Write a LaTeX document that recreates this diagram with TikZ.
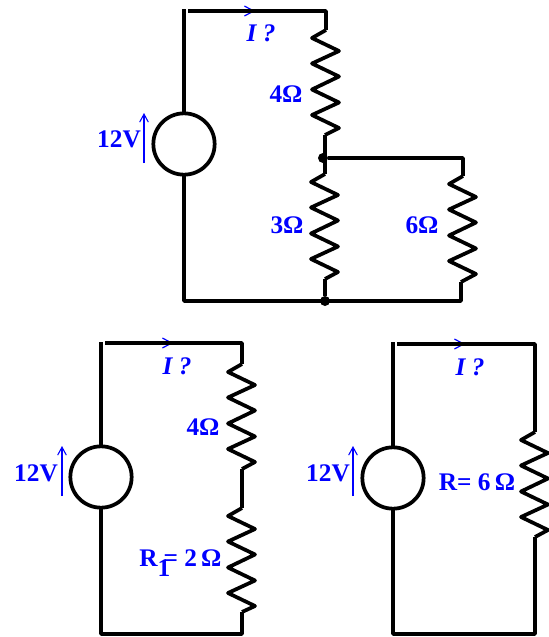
\documentclass[tikz,border=0pt]{standalone}
\usepackage{fontspec}
\setmainfont{Liberation Serif}
\usetikzlibrary{arrows.meta}
\tikzstyle{wire}=[
	-,
	draw=black,
	line width=2.8pt,
	line join=round
]
\tikzstyle{source}=[
	circle,
	draw=black,
	line width=2.8pt,
	fill=white,
	inner sep=0pt,
	minimum size=46pt
]
\tikzstyle{junction}=[
	circle,
	fill=black,
	inner sep=0pt,
	minimum size=7.5pt
]
\tikzstyle{value}=[
	text=blue,
	inner sep=0pt,
	font=\bfseries\fontsize{19}{19}\selectfont
]
\tikzstyle{query}=[
	value,
	font=\bfseries\itshape\fontsize{19}{19}\selectfont
]
\tikzstyle{emf}=[
	-{Straight Barb[length=6pt,width=6.5pt]},
	draw=blue,
	line width=0.8pt
]
\tikzstyle{flow}=[
	-{Straight Barb[length=7pt,width=7.5pt]},
	draw=blue,
	line width=0.9pt
]
\tikzstyle{resistor}=[
	to path={-- ++(-14,8) -- ++(27,13) -- ++(-27,12.5) -- ++(27,13) -- ++(-27,13)
	-- ++(27,13) -- ++(-27,12.5) -- ++(27,13) -- (\tikztotarget)}
]
\begin{document}
\begin{tikzpicture}[x=0.75pt,y=-0.75pt]
\useasboundingbox (0,0) rectangle (549,637);

% top circuit
\coordinate (a1) at (184,9);
\coordinate (a2) at (184,301);
\coordinate (a3) at (188,11);
\coordinate (a4) at (326,11);
\coordinate (a5) at (326,30);
\coordinate (a6) at (325,135);
\coordinate (a7) at (325,174);
\coordinate (a8) at (325,279);
\coordinate (a9) at (463,158);
\coordinate (a10) at (463,176);
\coordinate (a11) at (461,282);
\coordinate (a12) at (461,301);
\coordinate (f1) at (244,11);
\coordinate (f2) at (255,11);
\draw[flow] (f1) -- (f2);
\draw[wire] (a1) -- (a2) -- (a12) -- (a11);
\draw[wire] (a3) -- (a4) -- (a5);
\draw[wire, resistor] (a5) to (a6);
\draw[wire] (a6) -- (a7);
\draw[wire, resistor] (a7) to (a8);
\node[junction] (j1) at (323,158) {};
\node[junction] (j2) at (325,301) {};
\draw[wire] (a8) -- (j2);
\draw[wire] (j1) -- (a9) -- (a10);
\draw[wire, resistor] (a10) to (a11);
\node[source] (s1) at (184,144) {};
\coordinate (e1) at (144,163);
\coordinate (e2) at (144,113);
\draw[emf] (e1) -- (e2);
\node[value] (v1) at (119,139) {12V};
\node[query] (i1) at (261,33) {I ?};
\node[value] (r1) at (286,94) {4Ω};
\node[value] (r2) at (287,225) {3Ω};
\node[value] (r3) at (422,225) {6Ω};

% bottom left circuit
\coordinate (b1) at (101,342);
\coordinate (b2) at (101,634);
\coordinate (b3) at (105,343);
\coordinate (b4) at (242,343);
\coordinate (b5) at (242,364);
\coordinate (b6) at (242,469);
\coordinate (b7) at (242,508);
\coordinate (b8) at (242,612);
\coordinate (b9) at (242,634);
\coordinate (f3) at (162,343);
\coordinate (f4) at (173,343);
\draw[flow] (f3) -- (f4);
\draw[wire] (b1) -- (b2) -- (b9) -- (b8);
\draw[wire] (b3) -- (b4) -- (b5);
\draw[wire, resistor] (b5) to (b6);
\draw[wire] (b6) -- (b7);
\draw[wire, resistor] (b7) to (b8);
\node[source] (s2) at (101,477) {};
\coordinate (e3) at (62,496);
\coordinate (e4) at (62,446);
\draw[emf] (e3) -- (e4);
\node[value] (v2) at (36,473) {12V};
\node[query] (i2) at (177,366) {I ?};
\node[value] (r4) at (203,427) {4Ω};
\node[value, anchor=base west] (r5) at (139,566) {R\raisebox{-8pt}{1}\kern-5pt= 2\,Ω};

% bottom right circuit
\coordinate (c1) at (393,342);
\coordinate (c2) at (393,634);
\coordinate (c3) at (397,344);
\coordinate (c4) at (535,344);
\coordinate (c5) at (535,432);
\coordinate (c6) at (535,537);
\coordinate (c7) at (535,634);
\coordinate (f5) at (454,344);
\coordinate (f6) at (465,344);
\draw[flow] (f5) -- (f6);
\draw[wire] (c1) -- (c2) -- (c7) -- (c6);
\draw[wire] (c3) -- (c4) -- (c5);
\draw[wire, resistor] (c5) to (c6);
\node[source] (s3) at (393,478) {};
\coordinate (e5) at (353,496);
\coordinate (e6) at (353,446);
\draw[emf] (e5) -- (e6);
\node[value] (v3) at (328,473) {12V};
\node[query] (i3) at (470,367) {I ?};
\node[value] (r6) at (477,482) {R= 6\,Ω};

\end{tikzpicture}
\end{document}
